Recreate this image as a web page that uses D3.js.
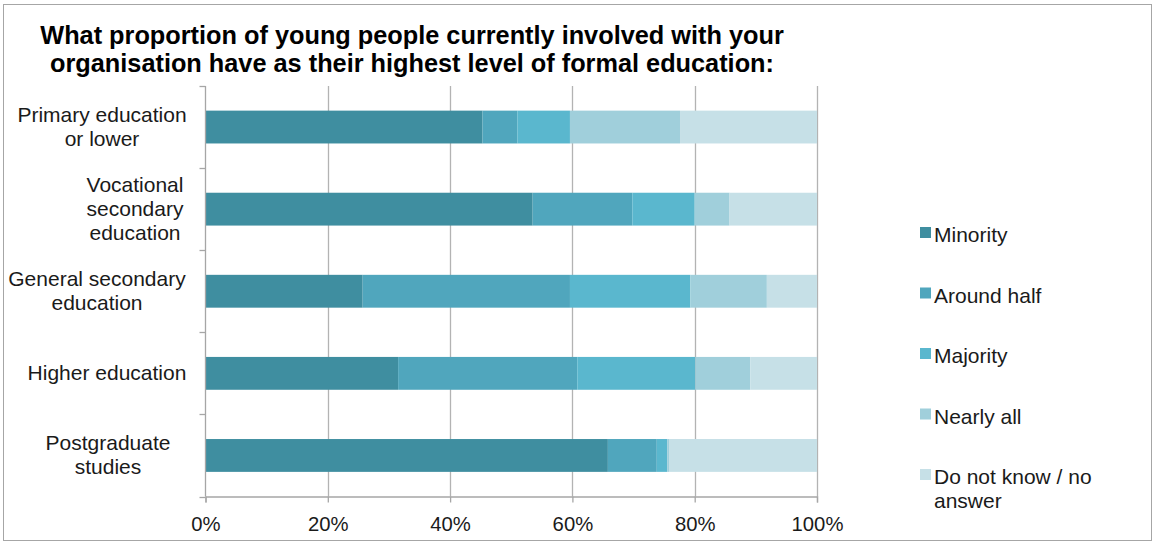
<!DOCTYPE html>
<html>
<head>
<meta charset="utf-8">
<script src="https://cdn.jsdelivr.net/npm/d3@7"></script>
<style>
  html, body { margin: 0; padding: 0; background: #fff; }
  svg { display: block; font-family: "Liberation Sans", Arial, sans-serif; }
</style>
</head>
<body>
<svg id="chart" width="1154" height="542"></svg>
<script>
// Education level categories (label lines)
const categories = [
  ["Primary education", "or lower"],
  ["Vocational", "secondary", "education"],
  ["General secondary", "education"],
  ["Higher education"],
  ["Postgraduate", "studies"]
];
const seriesNames = ["Minority", "Around half", "Majority", "Nearly all", "Do not know / no answer"];
const seriesColors = ["#3f8ea0", "#50a6bd", "#5ab7ce", "#a0cfdb", "#c6e0e7"];

// Share (%) of each answer per category, in series order
const minority   = [45.3, 53.5, 25.7, 31.5, 65.8];
const aroundHalf = [5.7, 16.3, 33.9, 29.3, 8.0];
const majority   = [8.6, 10.2, 19.7, 19.3, 1.7];
const nearlyAll  = [18.0, 5.7, 12.5, 9.0, 0.3];
const dontKnow   = [22.4, 14.3, 8.2, 10.9, 24.2];

const xTicks = [0, 20, 40, 60, 80, 100];
const titleLines = [
  "What proportion of young people currently involved with your",
  "organisation have as their highest level of formal education:"
];

const svg = d3.select("#chart");

// outer frame
svg.append("rect")
  .attr("x", 3.5).attr("y", 4.5).attr("width", 1148).attr("height", 536)
  .attr("fill", "#fff").attr("stroke", "#a6a6a6").attr("stroke-width", 1);

// title
svg.append("g").selectAll("text").data(titleLines).join("text")
  .attr("x", 412).attr("y", (d, i) => 44 + i * 28)
  .attr("text-anchor", "middle")
  .attr("font-size", 25.3).attr("font-weight", "bold").attr("fill", "#000")
  .text(d => d);

const plot = { left: 205.5, right: 817, top: 86, bottom: 496.5 };

const x = d3.scaleLinear().domain([0, 100]).range([plot.left, plot.right]);
const y = d3.scaleBand().domain(d3.range(categories.length))
  .range([plot.top, plot.bottom]).paddingInner(0.6).paddingOuter(0.3);

// vertical gridlines
svg.append("g").selectAll("line").data(xTicks.slice(1)).join("line")
  .attr("x1", d => Math.round(x(d)) + 0.5).attr("x2", d => Math.round(x(d)) + 0.5)
  .attr("y1", plot.top).attr("y2", plot.bottom)
  .attr("stroke", "#b3b3b3").attr("stroke-width", 1.3);

// stacked bars
const rows = categories.map((c, i) => {
  const vals = [minority[i], aroundHalf[i], majority[i], nearlyAll[i], dontKnow[i]];
  const o = { idx: i };
  seriesNames.forEach((s, k) => { o[s] = vals[k]; });
  return o;
});
const stacked = d3.stack().keys(seriesNames)(rows);

svg.append("g").selectAll("g").data(stacked).join("g")
  .attr("fill", (d, k) => seriesColors[k])
  .selectAll("rect").data(d => d).join("rect")
  .attr("x", d => x(d[0]))
  .attr("width", d => x(d[1]) - x(d[0]))
  .attr("y", (d, i) => y(i))
  .attr("height", y.bandwidth());

// left (category) axis: line and ticks at band boundaries
const bandEdges = d3.range(categories.length + 1).map(i => plot.top + i * (plot.bottom - plot.top) / categories.length);
const axisG = svg.append("g").attr("stroke", "#a6a6a6").attr("stroke-width", 1.3);
axisG.append("line")
  .attr("x1", plot.left).attr("x2", plot.left)
  .attr("y1", plot.top).attr("y2", plot.bottom);
axisG.selectAll("line.tick").data(bandEdges).join("line").attr("class", "tick")
  .attr("x1", plot.left - 6).attr("x2", plot.left)
  .attr("y1", d => Math.round(d) + 0.5).attr("y2", d => Math.round(d) + 0.5);

// bottom axis
const xAxis = d3.axisBottom(x).tickValues(xTicks).tickFormat(d => d + "%").tickSize(6).tickPadding(14);
const xg = svg.append("g").attr("transform", `translate(0,${plot.bottom})`).call(xAxis);
xg.select(".domain").attr("stroke", "#a6a6a6").attr("stroke-width", 1.3);
xg.selectAll(".tick line").attr("stroke", "#a6a6a6").attr("stroke-width", 1.3);
xg.selectAll(".tick text")
  .attr("font-size", 20.3).attr("fill", "#1a1a1a")
  .attr("font-family", "'Liberation Sans', Arial, sans-serif");

// category labels: wrapped lines, each centred within its text block
const lineH = 24;
const labelCenterX = [102, 135, 97, 107, 108];
svg.append("g").selectAll("text").data(categories).join("text")
  .attr("text-anchor", "middle")
  .attr("font-size", 21).attr("fill", "#1a1a1a")
  .attr("transform", (d, i) => `translate(${labelCenterX[i]},${y(i) + y.bandwidth() / 2})`)
  .each(function (lines) {
    const t = d3.select(this);
    const y0 = -((lines.length - 1) * lineH) / 2 + 7;
    lines.forEach((ln, j) => {
      t.append("tspan").attr("x", 0).attr("y", y0 + j * lineH).text(ln);
    });
  });

// legend
const legendLabels = [["Minority"], ["Around half"], ["Majority"], ["Nearly all"], ["Do not know / no", "answer"]];
const leg = svg.append("g").attr("transform", "translate(920,0)");
const legItems = leg.selectAll("g").data(seriesNames).join("g")
  .attr("transform", (d, i) => `translate(0,${235 + i * 60.5})`);
legItems.append("rect")
  .attr("x", 0).attr("y", -8).attr("width", 11).attr("height", 11)
  .attr("fill", (d, i) => seriesColors[i]);
legItems.append("text")
  .attr("font-size", 21).attr("fill", "#1a1a1a")
  .each(function (d, i) {
    const t = d3.select(this);
    legendLabels[i].forEach((ln, j) => {
      t.append("tspan").attr("x", 14).attr("y", 7 + j * 24).text(ln);
    });
  });
</script>
</body>
</html>
